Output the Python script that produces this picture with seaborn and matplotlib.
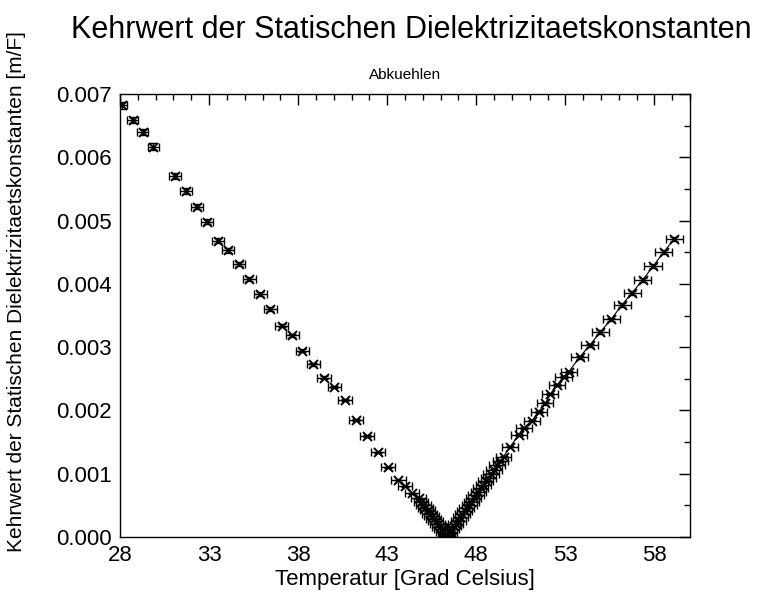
import matplotlib
matplotlib.use("Agg")
import matplotlib.pyplot as plt
import numpy as np
import pandas as pd
import seaborn as sns
from matplotlib.ticker import MultipleLocator, FormatStrFormatter

# Cooling run, branch below the transition temperature
temp_low = [28.10, 28.71, 29.28, 29.87, 31.09, 31.71, 32.30, 32.89, 33.49, 34.08,
            34.69, 35.26, 35.87, 36.43, 37.08, 37.68, 38.24, 38.86, 39.46, 40.04,
            40.64, 41.26, 41.86, 42.46, 43.04, 43.63, 44.01, 44.39, 44.76, 44.90,
            45.03, 45.15, 45.27, 45.39, 45.50, 45.61, 45.72, 45.83, 45.94, 46.05,
            46.15, 46.25, 46.33]
kehr_low = [0.00682, 0.00659, 0.00640, 0.00617, 0.00570, 0.00547, 0.00522, 0.00498, 0.00468, 0.00453,
            0.00431, 0.00408, 0.00384, 0.00360, 0.00334, 0.00319, 0.00294, 0.00273, 0.00252, 0.00237,
            0.00216, 0.00185, 0.00160, 0.00134, 0.00110, 0.00090, 0.00080, 0.00069, 0.00061, 0.00056,
            0.00051, 0.00046, 0.00042, 0.00037, 0.00033, 0.00029, 0.00025, 0.00020, 0.00016, 0.00012,
            0.00008, 0.00005, 0.00002]

# Cooling run, branch above the transition temperature
temp_high = [46.40, 46.52, 46.63, 46.75, 46.86, 46.98, 47.10, 47.22, 47.35, 47.47,
             47.60, 47.72, 47.85, 47.98, 48.11, 48.25, 48.39, 48.53, 48.68, 48.84,
             49.00, 49.17, 49.35, 49.53, 49.91, 50.38, 50.66, 51.13, 51.50, 51.88,
             52.16, 52.53, 52.90, 53.19, 53.80, 54.37, 54.97, 55.57, 56.19, 56.75,
             57.34, 57.93, 58.52, 59.12]
kehr_high = [0.00002, 0.00007, 0.00012, 0.00017, 0.00021, 0.00026, 0.00031, 0.00036, 0.00041, 0.00046,
             0.00051, 0.00056, 0.00061, 0.00066, 0.00071, 0.00077, 0.00082, 0.00088, 0.00094, 0.00100,
             0.00106, 0.00113, 0.00120, 0.00127, 0.00143, 0.00161, 0.00172, 0.00184, 0.00198, 0.00211,
             0.00226, 0.00240, 0.00253, 0.00261, 0.00284, 0.00303, 0.00324, 0.00344, 0.00367, 0.00386,
             0.00406, 0.00428, 0.00450, 0.00471]

x_ticks = [28, 33, 38, 43, 48, 53, 58]
y_ticks = [0.000, 0.001, 0.002, 0.003, 0.004, 0.005, 0.006, 0.007]

# Thermometer accuracy (offset + relative part) and relative uncertainty of 1/eps
temp_err_abs = 0.14
temp_err_rel = 0.006
kehr_err_rel = 0.008

df = pd.DataFrame({
    "T": temp_low + temp_high,
    "k": kehr_low + kehr_high,
})
df["T_err"] = temp_err_abs + temp_err_rel * df["T"]
df["k_err"] = kehr_err_rel * df["k"]
df_high = pd.DataFrame({"T": temp_high, "k": kehr_high})

sns.set_theme(style="white")
plt.rcParams["font.family"] = ["Liberation Sans", "DejaVu Sans"]

W, H = 764, 597
fig = plt.figure(figsize=(W / 100, H / 100), dpi=100)
left, right, top, bottom = 120, 690, 94, 537
ax = fig.add_axes([left / W, 1 - bottom / H, (right - left) / W, (bottom - top) / H])

# connecting line through the upper branch
sns.lineplot(data=df_high, x="T", y="k", sort=False, color="black", lw=0.8, ax=ax)

# error bars and crosses
ax.errorbar(df["T"], df["k"], xerr=df["T_err"], yerr=df["k_err"], fmt="none",
            ecolor="black", elinewidth=1.0, capsize=2.8, capthick=1.0, zorder=3)
sns.scatterplot(data=df, x="T", y="k", marker="x", s=42, linewidth=1.4,
                color="black", ax=ax, zorder=4)

ax.set_xlim(28, 60)
ax.set_ylim(0, 0.007)
ax.set_xticks(x_ticks)
ax.set_yticks(y_ticks)
ax.yaxis.set_major_formatter(FormatStrFormatter("%.3f"))
ax.xaxis.set_minor_locator(MultipleLocator(1))
ax.yaxis.set_minor_locator(MultipleLocator(0.0005))
ax.tick_params(which="both", direction="in", top=True, right=True,
               colors="black", labelsize=16, width=1.0)
ax.tick_params(which="major", length=8, pad=6)
ax.tick_params(which="minor", length=4)
for s in ax.spines.values():
    s.set_color("black")
    s.set_linewidth(1.0)
ax.set_xlabel("")
ax.set_ylabel("")
ax.grid(False)

cx = (left + right) / 2 / W
fig.text(411 / W, 1 - 30 / H, "Kehrwert der Statischen Dielektrizitaetskonstanten",
         ha="center", va="center", fontsize=22, color="black")
fig.text(cx, 1 - 75 / H, "Abkuehlen",
         ha="center", va="center", fontsize=11, color="black")
fig.text(cx, 1 - 580 / H, "Temperatur [Grad Celsius]",
         ha="center", va="center", fontsize=16, color="black")
fig.text(17 / W, 1 - 292 / H, "Kehrwert der Statischen Dielektrizitaetskonstanten [m/F]",
         ha="center", va="center", rotation=90, fontsize=15, color="black")

fig.savefig("out.png", dpi=100, facecolor="white")
